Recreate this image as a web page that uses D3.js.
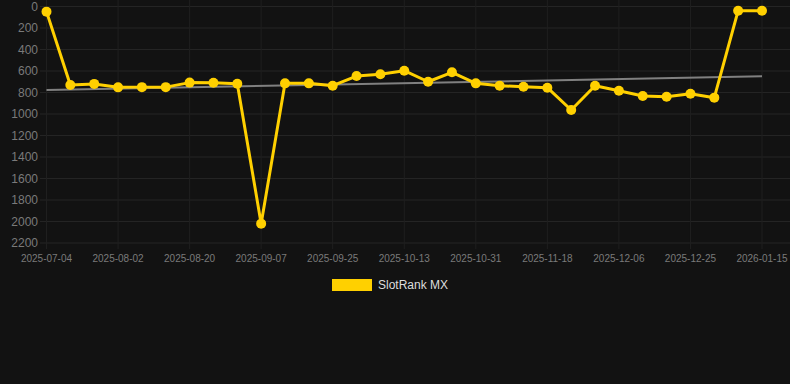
<!DOCTYPE html>
<html>
<head>
<meta charset="utf-8">
<script src="https://cdn.jsdelivr.net/npm/d3@7"></script>
<style>
  html, body { margin: 0; padding: 0; background: #121212; }
  svg { display: block; }
</style>
</head>
<body>
<svg id="chart" width="790" height="384"></svg>
<script>
// dates (one per point), only every third one is labelled
const dates = [
  '2025-07-04', '2025-07-14', '2025-07-24', '2025-08-02', '2025-08-08', '2025-08-14',
  '2025-08-20', '2025-08-26', '2025-09-01', '2025-09-07', '2025-09-13', '2025-09-19',
  '2025-09-25', '2025-10-01', '2025-10-07', '2025-10-13', '2025-10-19', '2025-10-25',
  '2025-10-31', '2025-11-06', '2025-11-12', '2025-11-18', '2025-11-24', '2025-11-30',
  '2025-12-06', '2025-12-12', '2025-12-18', '2025-12-25', '2026-01-01', '2026-01-08',
  '2026-01-15'
];
const ranks = [
  48, 730, 720, 752, 750, 750, 708, 710, 718, 2020, 715, 715, 737, 647, 631, 597,
  700, 612, 715, 737, 746, 755, 963, 737, 783, 833, 839, 811, 848, 39, 39
];
const yTicks = [0, 200, 400, 600, 800, 1000, 1200, 1400, 1600, 1800, 2000, 2200];
const seriesName = 'SlotRank MX';

const svg = d3.select('#chart');
const yellow = '#FFD000';

const x = d3.scalePoint()
  .domain(d3.range(dates.length))
  .range([46.5, 762]);

const y = d3.scaleLinear()
  .domain([0, 2200])
  .range([6.5, 243]);

// grid
svg.append('g')
  .selectAll('line')
  .data(yTicks)
  .join('line')
  .attr('x1', 40).attr('x2', 790)
  .attr('y1', d => y(d)).attr('y2', d => y(d))
  .attr('stroke', '#242424')
  .attr('stroke-width', 1);

const labelled = d3.range(0, dates.length, 3);

svg.append('g')
  .selectAll('line')
  .data(labelled)
  .join('line')
  .attr('x1', d => x(d)).attr('x2', d => x(d))
  .attr('y1', 0).attr('y2', y(2200) + 6)
  .attr('stroke', '#1f1f1f')
  .attr('stroke-width', 1);

// axes labels
svg.append('g')
  .selectAll('text')
  .data(yTicks)
  .join('text')
  .attr('x', 38)
  .attr('y', d => y(d))
  .attr('dy', '0.35em')
  .attr('text-anchor', 'end')
  .attr('fill', '#7a7a7a')
  .style('font', '12px "Liberation Sans", Arial, sans-serif')
  .text(d => d);

svg.append('g')
  .selectAll('text')
  .data(labelled)
  .join('text')
  .attr('x', d => x(d))
  .attr('y', 262)
  .attr('text-anchor', 'middle')
  .attr('fill', '#7a7a7a')
  .style('font', '10px "Liberation Sans", Arial, sans-serif')
  .text(d => dates[d]);

// trend line (least squares over the points)
const n = ranks.length;
const mx = d3.mean(d3.range(n));
const my = d3.mean(ranks);
const slope = d3.sum(ranks, (v, i) => (i - mx) * (v - my)) / d3.sum(d3.range(n), i => (i - mx) * (i - mx));
const icpt = my - slope * mx;

svg.append('line')
  .attr('x1', x(0)).attr('y1', y(icpt))
  .attr('x2', x(n - 1)).attr('y2', y(icpt + slope * (n - 1)))
  .attr('stroke', '#808080')
  .attr('stroke-width', 2);

// series
const line = d3.line()
  .x((d, i) => x(i))
  .y(d => y(d));

svg.append('path')
  .datum(ranks)
  .attr('d', line)
  .attr('fill', 'none')
  .attr('stroke', yellow)
  .attr('stroke-width', 3)
  .attr('stroke-linejoin', 'round');

svg.append('g')
  .selectAll('circle')
  .data(ranks)
  .join('circle')
  .attr('cx', (d, i) => x(i))
  .attr('cy', d => y(d))
  .attr('r', 5)
  .attr('fill', yellow);

// legend
const legend = svg.append('g').attr('transform', 'translate(332,279)');
legend.append('rect')
  .attr('width', 40).attr('height', 12)
  .attr('fill', yellow);
legend.append('text')
  .attr('x', 46).attr('y', 6)
  .attr('dy', '0.35em')
  .attr('fill', '#dddddd')
  .style('font', '12px "Liberation Sans", Arial, sans-serif')
  .text(seriesName);
</script>
</body>
</html>
